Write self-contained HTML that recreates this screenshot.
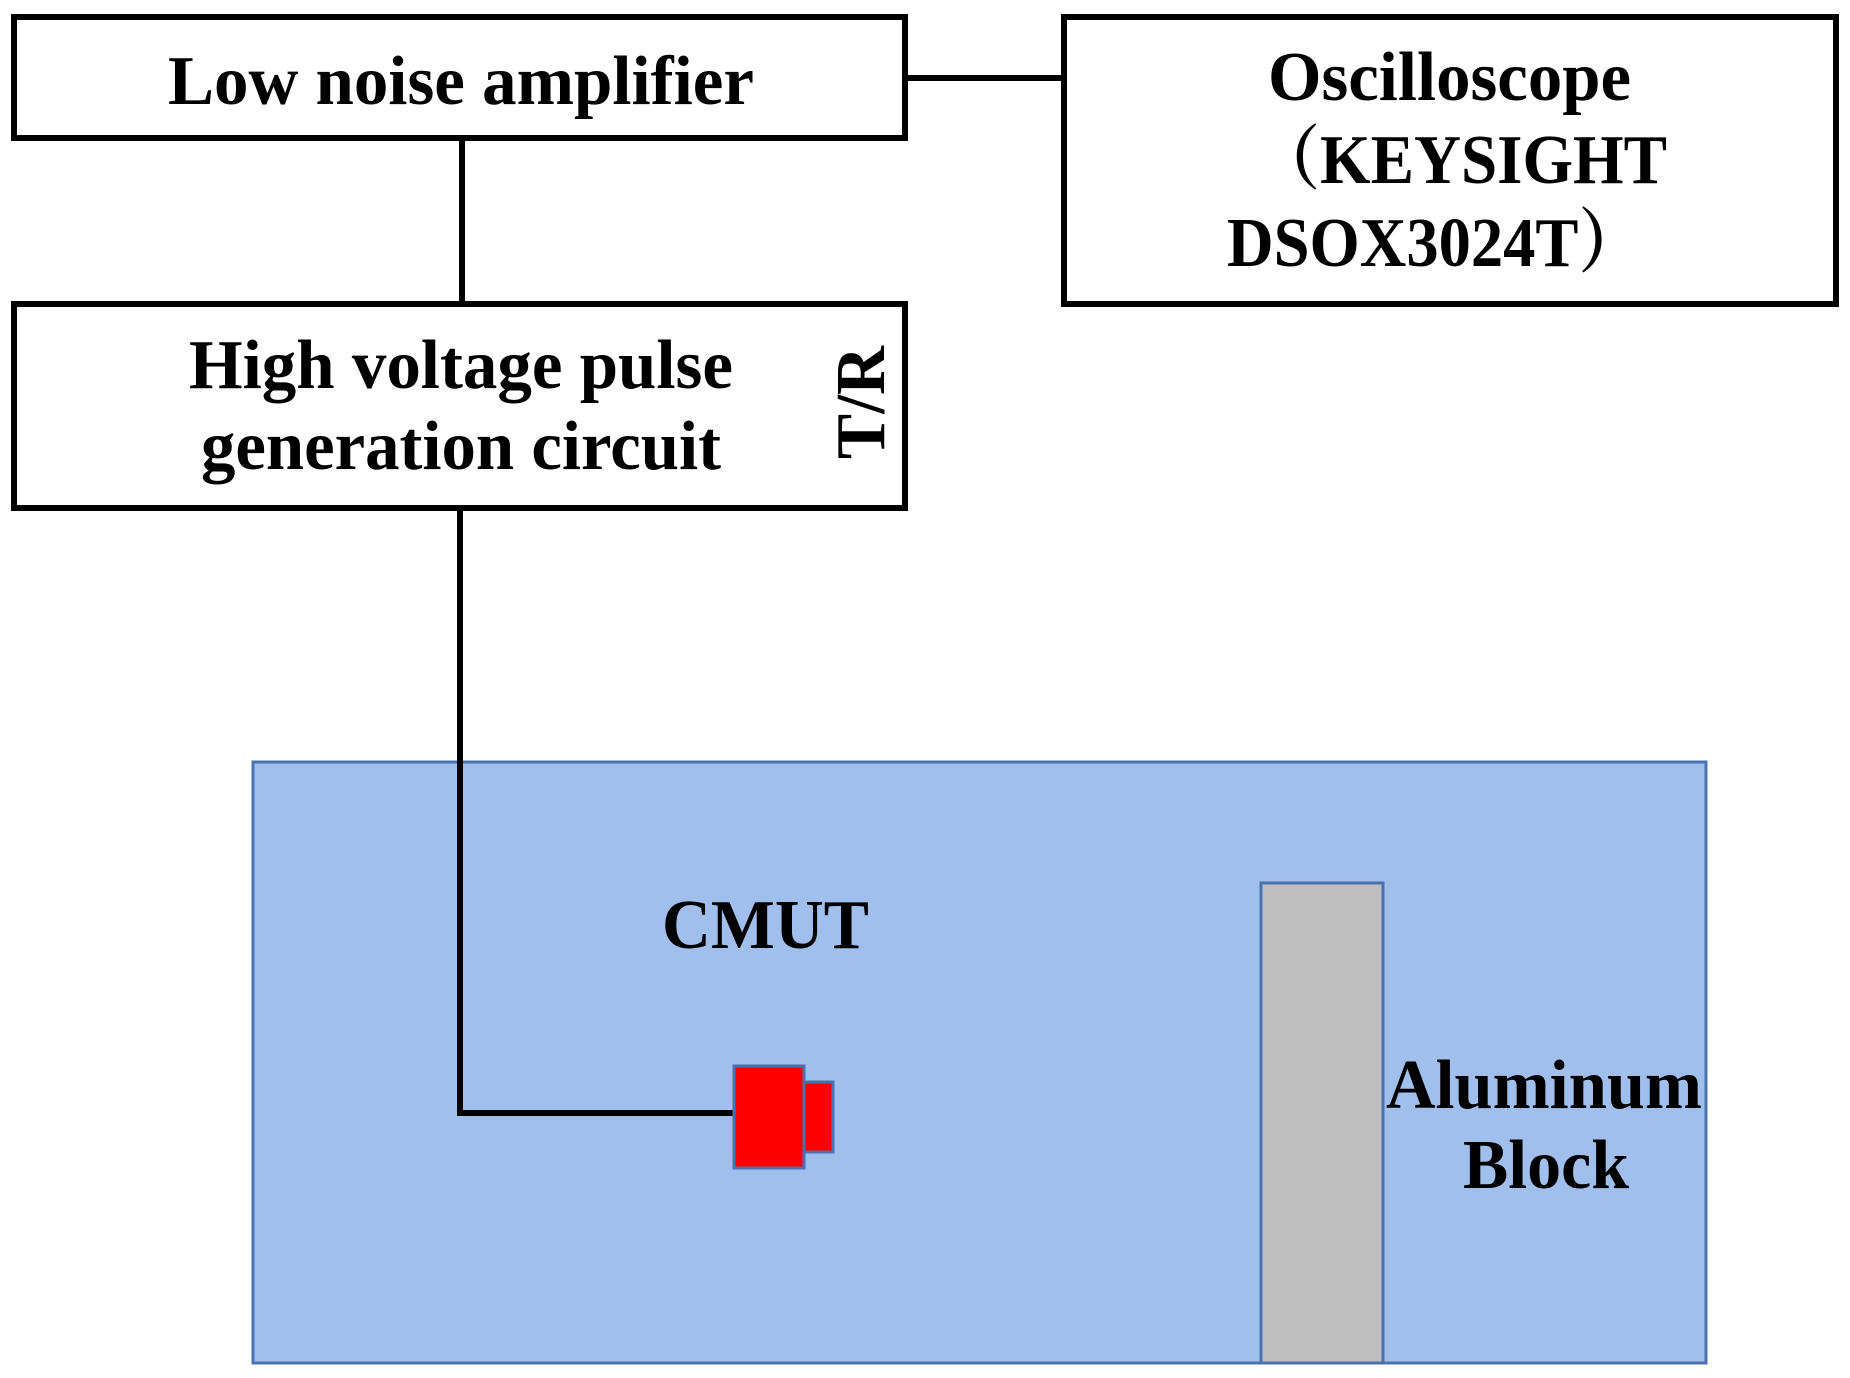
<!DOCTYPE html>
<html><head><meta charset="utf-8"><style>html,body{margin:0;padding:0;background:#fff}svg{display:block}</style></head>
<body>
<svg width="1850" height="1378" viewBox="0 0 1850 1378" xmlns="http://www.w3.org/2000/svg">
<g fill="none" stroke="#000" stroke-width="6">
<rect x="14" y="17" width="891" height="121" fill="#fff"/>
<rect x="1064" y="17" width="772" height="287" fill="#fff"/>
<rect x="14" y="304" width="891" height="204" fill="#fff"/>
<line x1="905" y1="78" x2="1064" y2="78"/>
<line x1="462" y1="138" x2="462" y2="304"/>
</g>
<rect x="253" y="762" width="1453" height="601" fill="#a1bfec" stroke="#4a72b0" stroke-width="3"/>
<rect x="1261" y="883" width="122" height="480" fill="#bfbfbf" stroke="#4a72b0" stroke-width="3"/>
<polyline points="460,508 460,1113 734,1113" fill="none" stroke="#000" stroke-width="6"/>
<rect x="734" y="1066" width="70" height="102" fill="#f00" stroke="#4a72b0" stroke-width="3"/>
<rect x="804" y="1082" width="29" height="70" fill="#f00" stroke="#4a72b0" stroke-width="3"/>
<g font-family="Liberation Serif, serif" font-weight="bold" font-size="70" fill="#000">
<text x="168" y="104" textLength="586" lengthAdjust="spacingAndGlyphs">Low noise amplifier</text>
<text x="1268" y="100" textLength="363" lengthAdjust="spacingAndGlyphs">Oscilloscope</text>
<text x="1255" y="183" textLength="412" lengthAdjust="spacingAndGlyphs" font-family="Liberation Serif, Noto Serif CJK SC, serif">（KEYSIGHT</text>
<text x="1227" y="266" textLength="416" lengthAdjust="spacingAndGlyphs" font-family="Liberation Serif, Noto Serif CJK SC, serif">DSOX3024T）</text>
<text x="189" y="388" textLength="544" lengthAdjust="spacingAndGlyphs">High voltage pulse</text>
<text x="201" y="469" textLength="520" lengthAdjust="spacingAndGlyphs">generation circuit</text>
<text transform="translate(884,459) rotate(-90)" x="0" y="0" textLength="113" lengthAdjust="spacingAndGlyphs">T/R</text>
<text x="662" y="948" textLength="207" lengthAdjust="spacingAndGlyphs">CMUT</text>
<text x="1386" y="1108" textLength="316" lengthAdjust="spacingAndGlyphs">Aluminum</text>
<text x="1463" y="1188" textLength="166" lengthAdjust="spacingAndGlyphs">Block</text>
</g>
</svg>
</body></html>
